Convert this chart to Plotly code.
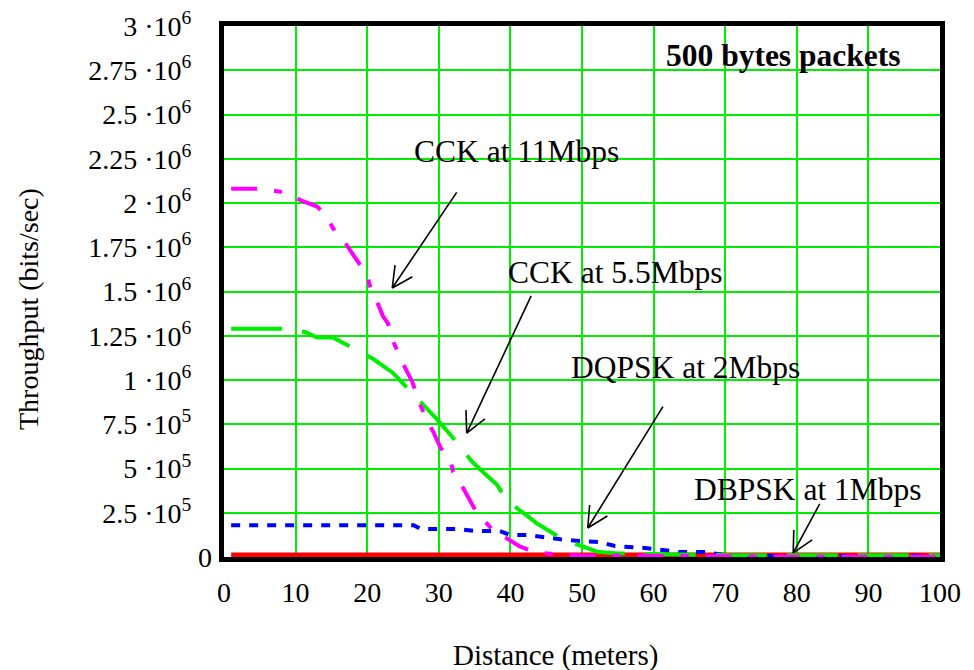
import math
import plotly.graph_objects as go

# ---------------- data ----------------
cck11_x = [1, 5, 8.5, 11, 13, 14, 15.5, 17, 18.5, 20, 20.6, 21.3, 22.2, 22.9, 23.6, 24.9, 26.3, 27.4,
           28.6, 29.2, 30.2, 31.6, 32, 33.4, 35.3, 37.6, 39.7, 41.3, 43.4, 47, 50, 55, 60, 65, 70, 75,
           80, 85, 90, 95, 100]
cck11_y = [2.08e6, 2.08e6, 2.06e6, 2.01e6, 1.98e6, 1.94e6, 1.84e6, 1.77e6, 1.68e6, 1.59e6, 1.50e6,
           1.45e6, 1.36e6, 1.32e6, 1.22e6, 1.10e6, 0.99e6, 0.86e6, 0.75e6, 0.71e6, 0.62e6, 0.55e6,
           0.48e6, 0.39e6, 0.25e6, 0.15e6, 0.10e6, 0.06e6, 0.028e6, 0.012e6, 0.008e6, 0.006e6,
           0.005e6, 0.005e6, 0.004e6, 0.003e6, 0.002e6, 0.002e6, 0.002e6, 0.002e6, 0.002e6]

cck55_x = [1, 8.5, 11.4, 13.0, 15.2, 17.2, 18.0, 20.8, 22.3, 23.6, 25.7, 28.1, 29.7, 32.7, 34.6, 36.7,
           38.1, 39.5, 41.8, 43.7, 46.5, 47.2, 50.1, 52.1, 55, 60, 70, 80, 90, 100]
cck55_y = [1.29e6, 1.29e6, 1.27e6, 1.24e6, 1.24e6, 1.20e6, 1.18e6, 1.12e6, 1.08e6, 1.04e6, 0.95e6,
           0.85e6, 0.78e6, 0.64e6, 0.54e6, 0.46e6, 0.41e6, 0.32e6, 0.25e6, 0.19e6, 0.12e6, 0.10e6,
           0.06e6, 0.03e6, 0.02e6, 0.015e6, 0.01e6, 0.01e6, 0.01e6, 0.01e6]

dqpsk_x = [1, 26.5, 27.5, 32.7, 35, 38.5, 40, 42.5, 47, 49.6, 52.4, 54.6, 58.8, 63.6, 67.2, 69.9, 75,
           80, 90, 100]
dqpsk_y = [0.18e6, 0.18e6, 0.158e6, 0.158e6, 0.147e6, 0.147e6, 0.124e6, 0.124e6, 0.10e6, 0.09e6,
           0.085e6, 0.062e6, 0.051e6, 0.028e6, 0.028e6, 0.011e6, 0.005e6, 0.005e6, 0.005e6, 0.005e6]

dbpsk_x = [1, 100]
dbpsk_y = [0.012e6, 0.012e6]

x_ticks = list(range(0, 101, 10))
y_ticks = [0, 2.5e5, 5e5, 7.5e5, 1e6, 1.25e6, 1.5e6, 1.75e6, 2e6, 2.25e6, 2.5e6, 2.75e6, 3e6]
y_ticktext = ["", "2.5 ·10<sup>5</sup>", "5 ·10<sup>5</sup>", "7.5 ·10<sup>5</sup>",
              "1 ·10<sup>6</sup>", "1.25 ·10<sup>6</sup>", "1.5 ·10<sup>6</sup>",
              "1.75 ·10<sup>6</sup>", "2 ·10<sup>6</sup>", "2.25 ·10<sup>6</sup>",
              "2.5 ·10<sup>6</sup>", "2.75 ·10<sup>6</sup>", "3 ·10<sup>6</sup>"]
y_zero_label = "0"

labels = ["CCK at 11Mbps", "CCK at 5.5Mbps", "DQPSK at 2Mbps", "DBPSK at 1Mbps"]
label_x = [40.9, 54.6, 64.5, 81.6]
label_y = [2.29e6, 1.61e6, 1.068e6, 0.379e6]
arrow_tail_x = [32.5, 42.9, 61.3, 83.2]
arrow_tail_y = [2.06e6, 1.475e6, 0.85e6, 0.30e6]
arrow_head_x = [23.5, 33.9, 50.8, 79.5]
arrow_head_y = [1.52e6, 0.70e6, 0.164e6, 0.023e6]

title_text = "<b>500 bytes packets</b>"
x_title = "Distance (meters)"
y_title = "Throughput (bits/sec)"

# ---------------- layout geometry ----------------
W, H = 974, 670
ML, MR, MT, MB = 224, 34, 26, 113
XR = [0, 100]
YR = [0, 3e6]
pw = W - ML - MR
ph = H - MT - MB
FONT = "Liberation Serif"

fig = go.Figure()
fig.add_trace(go.Scatter(x=dbpsk_x, y=dbpsk_y, mode="lines",
                         line=dict(color="#ff0000", width=5), name="DBPSK"))
fig.add_trace(go.Scatter(x=dqpsk_x, y=dqpsk_y, mode="lines",
                         line=dict(color="#0000ff", width=4, dash="9px,9px"), name="DQPSK"))
fig.add_trace(go.Scatter(x=cck55_x, y=cck55_y, mode="lines",
                         line=dict(color="#00ee00", width=4, dash="51px,20px"), name="CCK 5.5"))
fig.add_trace(go.Scatter(x=cck11_x, y=cck11_y, mode="lines",
                         line=dict(color="#ff00ff", width=4, dash="26px,17px,8px,17px"), name="CCK 11"))

# text labels
for t, lx, ly in zip(labels, label_x, label_y):
    fig.add_annotation(x=lx, y=ly, text=t, showarrow=False,
                       font=dict(family=FONT, size=31.5, color="black"))
fig.add_annotation(x=78.1, y=2.836e6, text=title_text, showarrow=False,
                   font=dict(family=FONT, size=31.5, color="black"))

# zero label on the y axis (sits closer to the axis than the others)
fig.add_annotation(xref="paper", yref="y", x=(214 - ML) / pw, y=0, text=y_zero_label,
                   showarrow=False, xanchor="right", yanchor="middle",
                   font=dict(family=FONT, size=28, color="black"))

# axis titles
fig.add_annotation(xref="paper", yref="paper", x=(555 - ML) / pw, y=-(655 - (H - MB)) / ph,
                   text=x_title, showarrow=False, xanchor="center", yanchor="middle",
                   font=dict(family=FONT, size=29, color="black"))
fig.add_annotation(xref="paper", yref="paper", x=(28 - ML) / pw, y=(H - MB - 309) / ph,
                   text=y_title, showarrow=False, textangle=-90, xanchor="center", yanchor="middle",
                   font=dict(family=FONT, size=28, color="black"))

# arrows with open V heads
sx = pw / (XR[1] - XR[0])
sy = ph / (YR[1] - YR[0])
for tx, ty, hx, hy in zip(arrow_tail_x, arrow_tail_y, arrow_head_x, arrow_head_y):
    fig.add_shape(type="line", x0=tx, y0=ty, x1=hx, y1=hy, xref="x", yref="y",
                  line=dict(color="black", width=1.6))
    dxp = (tx - hx) * sx
    dyp = (ty - hy) * sy
    ang = math.atan2(dyp, dxp)
    for s in (-1, 1):
        a = ang + s * math.radians(27)
        bx = hx + 23 * math.cos(a) / sx
        by = hy + 23 * math.sin(a) / sy
        fig.add_shape(type="line", x0=hx, y0=hy, x1=bx, y1=by, xref="x", yref="y",
                      line=dict(color="black", width=1.6))

fig.update_layout(
    width=W, height=H,
    margin=dict(l=ML, r=MR, t=MT, b=MB),
    paper_bgcolor="white", plot_bgcolor="white",
    showlegend=False,
    font=dict(family=FONT, color="black"),
    xaxis=dict(range=XR, tickvals=x_ticks, showgrid=True, gridcolor="#00ee00", gridwidth=2,
               zeroline=False, showline=True, linecolor="black", linewidth=5, mirror=True,
               ticks="", tickfont=dict(family=FONT, size=28, color="black"),
               ticklabelstandoff=6, automargin=False),
    yaxis=dict(range=YR, tickvals=y_ticks, ticktext=y_ticktext, showgrid=True,
               gridcolor="#00ee00", gridwidth=2, zeroline=False, showline=True,
               linecolor="black", linewidth=5, mirror=True, ticks="",
               tickfont=dict(family=FONT, size=28, color="black"), ticklabelstandoff=22,
               automargin=False),
)

fig.write_html("out.html")
